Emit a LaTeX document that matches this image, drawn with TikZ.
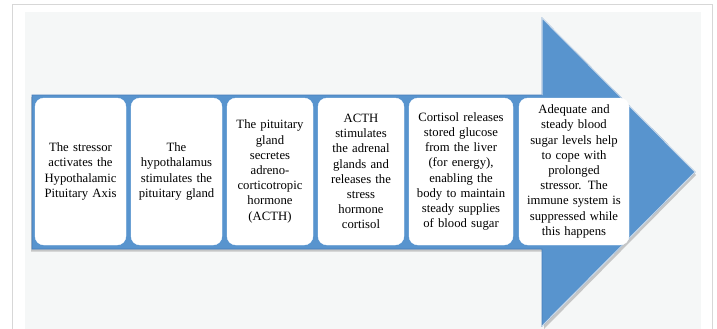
\documentclass[tikz,border=0pt]{standalone}
\usepackage{fontspec}
\setmainfont{Liberation Serif}
\definecolor{arrowblue}{RGB}{88,148,206}
\definecolor{arrowedge}{RGB}{70,125,185}
\definecolor{bgpanel}{RGB}{245,247,247}
\definecolor{framegray}{RGB}{215,215,215}
\tikzset{
  stepbox/.style={rounded corners=9pt, fill=white, draw=white, inner sep=1pt,
    align=center, minimum height=147pt, font=\fontsize{12.7}{15.2}\selectfont},
}
\begin{document}
\begin{tikzpicture}[x=1pt,y=-1pt]
\useasboundingbox (0,0) rectangle (717,329);
\fill[white] (0,0) rectangle (717,329);
\draw[framegray, line width=1pt, fill=white] (12,5) rectangle (712,345);
\fill[bgpanel] (25,12) rectangle (701,345);
% shadow
\fill[black!35, opacity=0.6] (31,97) -- (544,97) -- (544,21) -- (696,175) -- (544,329) -- (544,251.5) -- (31,251.5) -- cycle;
% arrow
\draw[arrowedge, line width=0.8pt, fill=arrowblue] (32,95) -- (542,95) -- (542,18) -- (695,172) -- (542,326) -- (542,249) -- (32,249) -- cycle;
\draw[white, opacity=0.7, line width=1pt] (542,95) -- (542,18) -- (695,172) -- (542,326);
\node[stepbox, minimum width=91pt, text width=87pt] (b1) at (80.5,171.5)
  {The stressor\\activates the\\Hypothalamic\\Pituitary Axis};
\node[stepbox, minimum width=91pt, text width=87pt] (b2) at (176.5,171.5)
  {The\\hypothalamus\\stimulates the\\pituitary gland};
\node[stepbox, minimum width=86pt, text width=82pt] (b3) at (270,171.5)
  {The pituitary\\gland\\secretes\\adreno-\\corticotropic\\hormone\\(ACTH)};
\node[stepbox, minimum width=86pt, text width=82pt] (b4) at (361,171.5)
  {ACTH\\stimulates\\the adrenal\\glands and\\releases the\\stress\\hormone\\cortisol};
\node[stepbox, minimum width=104pt, text width=100pt] (b5) at (461,171.5)
  {Cortisol releases\\stored glucose\\from the liver\\(for energy),\\enabling the\\body to maintain\\steady supplies\\of blood sugar};
\node[stepbox, minimum width=110pt, text width=106pt] (b6) at (574,171.5)
  {Adequate and\\steady blood\\sugar levels help\\to cope with\\prolonged\\stressor. The\\immune system is\\suppressed while\\this happens};
\end{tikzpicture}
\end{document}
